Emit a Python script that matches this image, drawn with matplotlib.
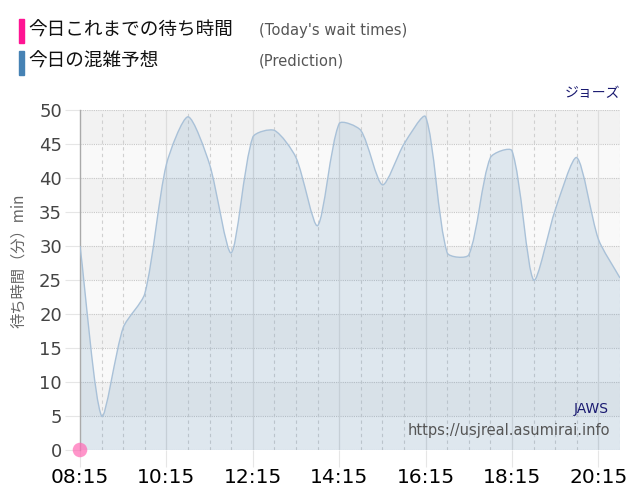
import numpy as np
import matplotlib
matplotlib.use("Agg")
import matplotlib.pyplot as plt
from matplotlib.path import Path
from matplotlib.patches import PathPatch, Rectangle

plt.rcParams['font.family'] = ['DejaVu Sans', 'Noto Sans CJK JP']

# 予測データ (30分ごと)
times = ["08:15", "08:45", "09:15", "09:45", "10:15", "10:45", "11:15", "11:45",
         "12:15", "12:45", "13:15", "13:45", "14:15", "14:45", "15:15", "15:45",
         "16:15", "16:45", "17:15", "17:45", "18:15", "18:45", "19:15", "19:45",
         "20:15", "20:45"]
prediction = [30, 5, 18, 23, 42, 49, 42, 29, 46, 47, 43, 33, 48, 47, 39, 45,
              49, 29, 28.7, 43, 44, 25, 35.3, 43, 31, 25.3]
today_times = ["08:15"]
today_waits = [0]
tick_labels = ["08:15", "10:15", "12:15", "14:15", "16:15", "18:15", "20:15"]


def to_min(t):
    h, m = t.split(":")
    return int(h) * 60 + int(m)


def spline_path(ax, x, y, tension=0.25):
    """Chart.js と同じ考え方のベジェ曲線 (ピクセル空間で計算)"""
    pts = ax.transData.transform(np.column_stack([x, y]))
    n = len(pts)
    ctrl_prev, ctrl_next = [], []
    for i in range(n):
        p0 = pts[max(i - 1, 0)]
        p1 = pts[i]
        p2 = pts[min(i + 1, n - 1)]
        d01 = np.hypot(*(p1 - p0))
        d12 = np.hypot(*(p2 - p1))
        tot = d01 + d12
        fa = tension * d01 / tot if tot else 0
        fb = tension * d12 / tot if tot else 0
        ctrl_prev.append(p1 - fa * (p2 - p0))
        ctrl_next.append(p1 + fb * (p2 - p0))
    inv = ax.transData.inverted()
    verts = [pts[0]]
    codes = [Path.MOVETO]
    for i in range(n - 1):
        verts += [ctrl_next[i], ctrl_prev[i + 1], pts[i + 1]]
        codes += [Path.CURVE4] * 3
    verts = inv.transform(np.array(verts))
    verts[:, 1] = np.clip(verts[:, 1], 0, 50)
    return [tuple(v) for v in verts], codes


xs = [to_min(t) for t in times]

fig = plt.figure(figsize=(6.4, 5), dpi=100)
ax = fig.add_axes([0.125, 0.1, 0.84375, 0.68])
x0, x1 = to_min("08:15"), to_min("20:45")
ax.set_xlim(x0, x1)
ax.set_ylim(0, 50)

# 背景の縞
for k, lo in enumerate(range(0, 50, 5)):
    col = "#f9f9f9" if k % 2 == 0 else "#f2f2f2"
    ax.add_patch(Rectangle((x0, lo), x1 - x0, 5, facecolor=col, edgecolor="none", zorder=0))

# グリッド
for yv in range(0, 55, 5):
    ax.axhline(yv, color="#c8c8c8", lw=0.8, ls=(0, (1, 1)), zorder=1)
for t in range(x0 + 30, x1 + 1, 30):
    if (t - x0) % 120 == 0:
        ax.axvline(t, color="#dddddd", lw=0.9, zorder=1)
    else:
        ax.axvline(t, color="#d0d0d0", lw=0.8, ls=(0, (3, 3)), zorder=1)

verts, codes = spline_path(ax, xs, prediction)
fill_verts = verts + [(xs[-1], 0), (xs[0], 0), verts[0]]
fill_codes = codes + [Path.LINETO, Path.LINETO, Path.CLOSEPOLY]
ax.add_patch(PathPatch(Path(fill_verts, fill_codes), facecolor="#4682b4", alpha=0.15,
                       edgecolor="none", zorder=2))
ax.add_patch(PathPatch(Path(verts, codes), facecolor="none", edgecolor="#a9c1d8",
                       lw=1.0, zorder=3))

ax.scatter([to_min(t) for t in today_times], today_waits, s=110, color="#ff69b4",
           alpha=0.7, edgecolor="none", zorder=5, clip_on=False)

ax.set_xticks([to_min(t) for t in tick_labels])
ax.set_xticklabels(tick_labels, fontsize=14.5, color="black")
ax.set_yticks(range(0, 55, 5))
ax.tick_params(axis="y", labelsize=13, labelcolor="#444444", length=11, color="#e6e6e6", pad=2)
ax.tick_params(axis="x", length=12, color="#e6e6e6", pad=1)
for s in ["top", "right", "bottom"]:
    ax.spines[s].set_visible(False)
ax.spines["left"].set_color("#aaaaaa")
ax.spines["left"].set_linewidth(1.0)
ax.set_ylabel("待ち時間（分）min", fontsize=11, color="#666666",
              family=["Noto Sans CJK JP", "DejaVu Sans"])
ax.yaxis.set_label_coords(-0.098, 0.555)

# 凡例
fig.patches.append(Rectangle((19 / 640, 1 - 43 / 500), 5 / 640, 24 / 500,
                             transform=fig.transFigure, color="#ff1493", figure=fig))
fig.patches.append(Rectangle((19 / 640, 1 - 75 / 500), 5 / 640, 24 / 500,
                             transform=fig.transFigure, color="#4682b4", figure=fig))
fig.text(28 / 640, 1 - 31 / 500, "今日これまでの待ち時間", fontsize=13.4, va="center",
         family=["Noto Sans CJK JP", "DejaVu Sans"], color="#111111")
fig.text(28 / 640, 1 - 62 / 500, "今日の混雑予想", fontsize=13.4, va="center",
         family=["Noto Sans CJK JP", "DejaVu Sans"], color="#111111")
fig.text(259 / 640, 1 - 31 / 500, "(Today's wait times)", fontsize=10.6, va="center", color="#555555")
fig.text(259 / 640, 1 - 61 / 500, "(Prediction)", fontsize=10.6, va="center", color="#555555")

fig.text(620 / 640, 1 - 93 / 500, "ジョーズ", fontsize=10, ha="right", va="center",
         color="#191970", family=["Noto Sans CJK JP", "DejaVu Sans"])
fig.text(609 / 640, 1 - 409 / 500, "JAWS", fontsize=10, ha="right", va="center", color="#191970")
fig.text(610 / 640, 1 - 431 / 500, "https://usjreal.asumirai.info", fontsize=10.5,
         ha="right", va="center", color="#555555")

fig.savefig("out.png", dpi=100)
